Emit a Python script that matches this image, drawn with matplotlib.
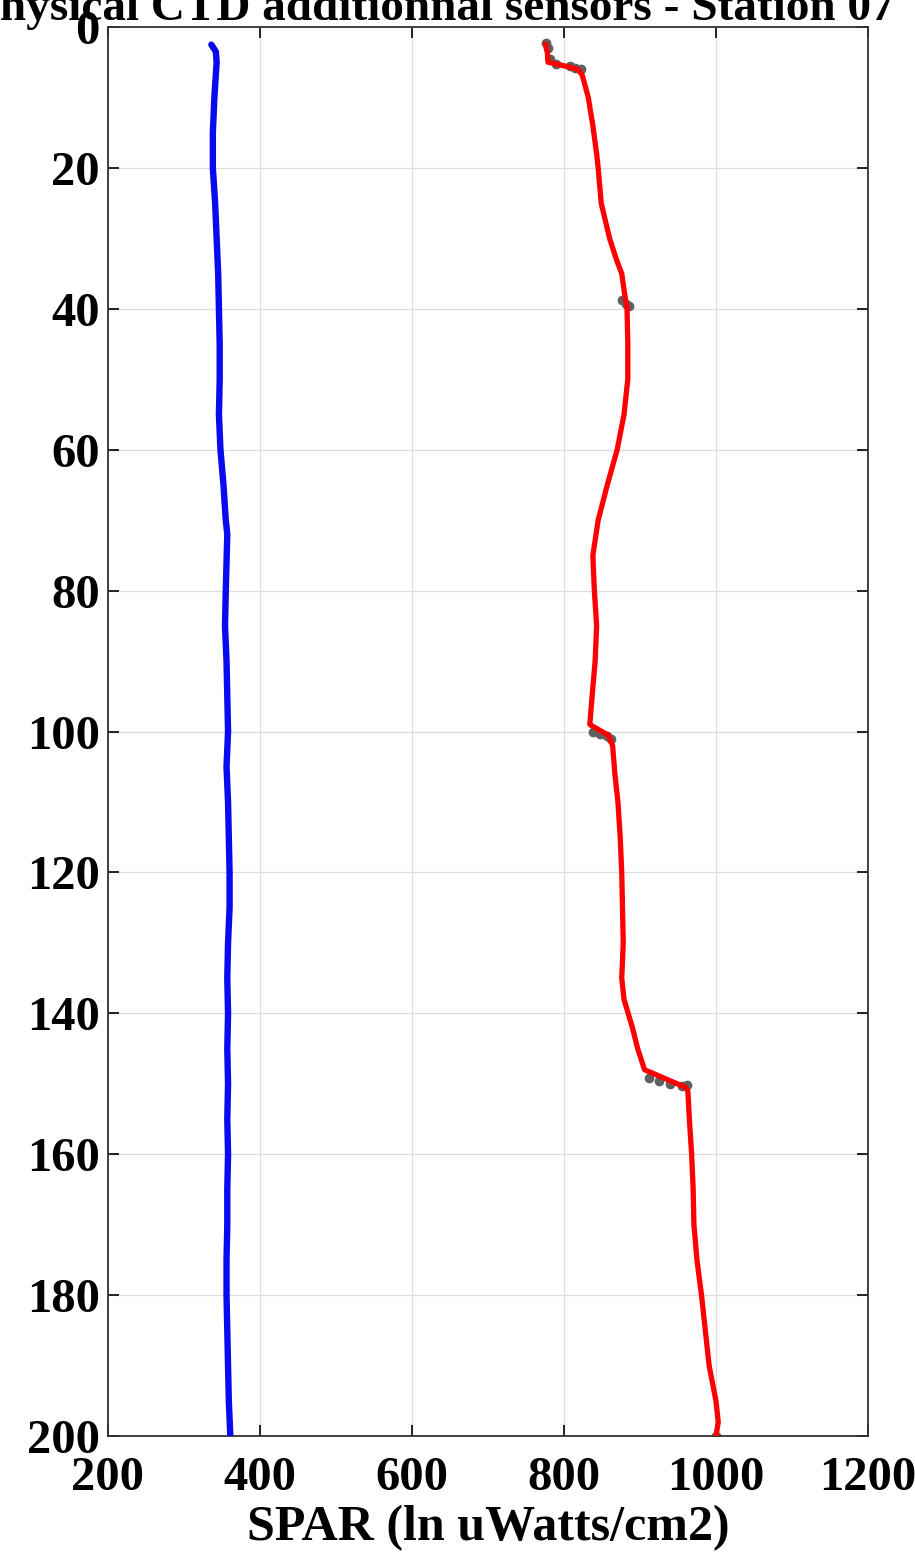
import numpy as np
import matplotlib.pyplot as plt

# ========= DATA =========

# blue profile (second SPAR sensor)
blue_depth = [2.5, 3.5, 5, 10, 15, 20, 25, 30, 35, 40, 45, 50, 55, 60, 65, 70, 72,
              76, 80, 85, 90, 95, 100, 105, 110, 115, 120, 125, 130, 135, 140,
              145, 150, 155, 160, 165, 170, 175, 180, 185, 190, 195, 200]
blue_spar = [336, 342, 343, 340, 338, 338, 341, 343, 345, 346, 347, 347, 346, 348, 352, 355, 357,
             356, 355, 354, 356, 357, 358, 356, 358, 359, 360, 360, 358, 357, 358,
             357, 358, 357, 358, 357, 357, 356, 356, 357, 358, 359, 361]

# red profile (SPAR)
red_depth = [2.5, 3.5, 5.0, 5.5, 6.0, 6.8, 8, 10, 14, 18, 20, 25, 30, 33, 35, 38, 40,
             45, 50, 55, 60, 65, 70, 75, 80, 85, 90, 95, 99.0, 100.5, 102, 106,
             110, 115, 120, 125, 130, 135, 138, 142, 145, 148.0, 150.5, 151,
             155, 160, 165, 170, 175, 180, 185, 190, 195, 198, 200]
red_spar = [776, 778, 779, 800, 818, 824, 827, 832, 838, 843, 845, 849, 860, 869, 876, 880, 883,
            884, 884, 879, 870, 857, 845, 838, 840, 843, 841, 837, 834, 858, 864, 867,
            871, 874, 876, 877, 878, 876, 879, 890, 897, 906, 960, 963,
            965, 968, 970, 971, 975, 981, 986, 991, 1000, 1003, 1000]

# raw samples that show in grey where they leave the red line
raw_depth = [2.3, 3.0, 4.5, 5.2, 5.6, 5.8, 6.0, 38.8, 39.3, 39.6, 100.0, 100.3, 100.7,
             101.0, 149.2, 149.6, 150.0, 150.3, 150.1, 200.0]
raw_spar = [777, 779, 781, 790, 808, 815, 822, 876, 881, 885, 838, 848, 856,
            862, 912, 925, 940, 955, 962, 1000]

x_ticks = [200, 400, 600, 800, 1000, 1200]
y_ticks = list(range(0, 201, 20))

title_text = 'Physical CTD additionnal sensors - Station 07'
x_label = 'SPAR (ln uWatts/cm2)'

# ========= PLOT =========

plt.rcParams['font.family'] = ['Liberation Serif', 'DejaVu Serif']
plt.rcParams['font.weight'] = 'bold'

fig = plt.figure(figsize=(9.15, 15.61), dpi=100)
ax = fig.add_axes([0.118, 0.080, 0.8306, 0.9027])

ax.plot(blue_spar, blue_depth, color='#0a0af0', linewidth=4.6,
        solid_capstyle='round', solid_joinstyle='round', zorder=3)
ax.plot(raw_spar, raw_depth, linestyle='none', marker='o', markersize=6,
        color='#606060', zorder=2)
ax.plot(red_spar, red_depth, color='#ff0000', linewidth=3.8,
        solid_joinstyle='round', zorder=4)

ax.set_xlim(200, 1200)
ax.set_ylim(200, 0)
ax.set_xticks(x_ticks)
ax.set_yticks(y_ticks)

ax.grid(True, color='#dcdcdc', linewidth=0.9)
ax.set_axisbelow(True)
ax.tick_params(direction='in', length=8, width=1.2, top=True, right=True,
               labelsize=35)
ax.tick_params(axis='x', pad=14)
ax.tick_params(axis='y', pad=6)
for lab in ax.get_xticklabels() + ax.get_yticklabels():
    lab.set_fontweight('bold')
for sp in ax.spines.values():
    sp.set_linewidth(1.3)
    sp.set_color('#333333')

ax.set_xlabel(x_label, fontsize=36, fontweight='bold', labelpad=4)

# title runs past the top edge of the picture, as in the reference
fig.text(0.978, 1 - 20 / 1561, title_text, ha='right', va='baseline',
         fontsize=34, fontweight='bold')

fig.savefig('out.png', dpi=100)
